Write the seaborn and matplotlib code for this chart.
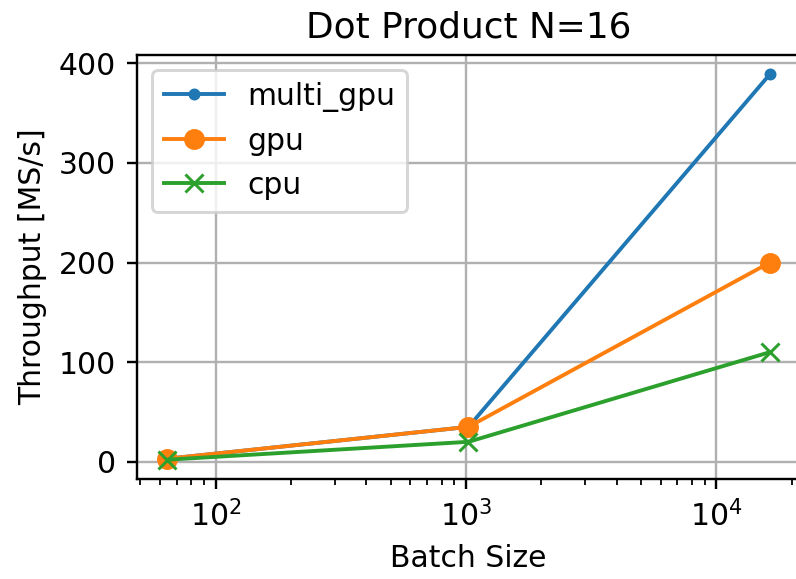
import numpy as np
import pandas as pd
import seaborn as sns
import matplotlib
matplotlib.use("Agg")
import matplotlib.pyplot as plt

# Datos
batch_size = [64, 1024, 16384]
multi_gpu = [3, 35, 389]
gpu = [3, 35, 200]
cpu = [2, 20, 110]

series = {"multi_gpu": (multi_gpu, ".", "tab:blue"),
          "gpu": (gpu, "o", "tab:orange"),
          "cpu": (cpu, "x", "tab:green")}

# estilo por defecto de matplotlib
plt.rcParams['font.family'] = ['DejaVu Sans']

DPI = 215
fig = plt.figure(figsize=(796 / DPI, 579 / DPI), dpi=DPI)
ax = fig.add_axes([137 / 796, 1 - 479 / 579, (800 - 137) / 796, (479 - 55) / 579])

for name, (vals, mk, col) in series.items():
    df = pd.DataFrame({"batch": batch_size, "tp": vals})
    sns.lineplot(data=df, x="batch", y="tp", marker=mk, color=col, label=name,
                 markeredgecolor=col, markerfacecolor=col, markeredgewidth=1,
                 linewidth=1.3, ax=ax)

ax.set_xscale("log")
ax.margins(x=0.05, y=0.05)
ax.grid(True, which="major", color="#b0b0b0", linewidth=0.8)
ax.set_title("Dot Product N=16")
ax.set_xlabel("Batch Size")
ax.set_ylabel("Throughput [MS/s]")
ax.set_yticks([0, 100, 200, 300, 400])
ax.legend(loc="upper left")

fig.savefig("out.png", dpi=DPI)
